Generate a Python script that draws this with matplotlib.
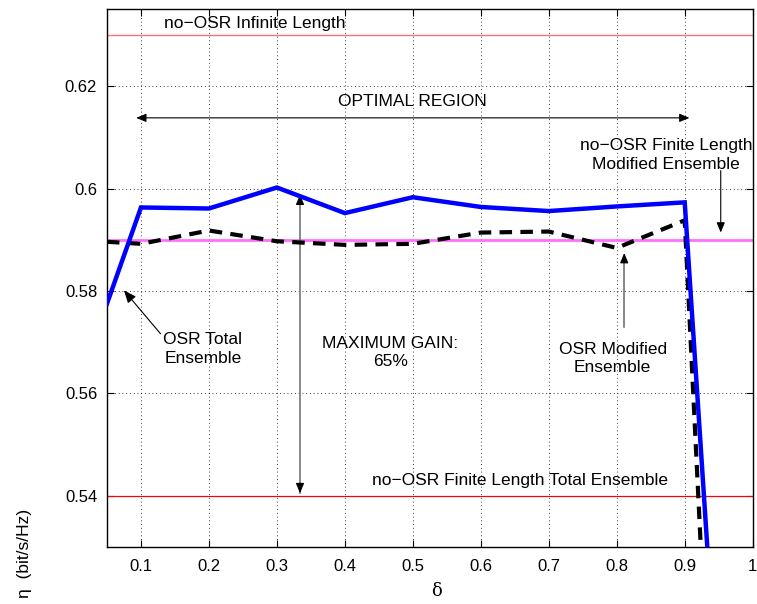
import matplotlib.pyplot as plt
import numpy as np

plt.rcParams['font.family'] = ['Liberation Sans', 'DejaVu Sans']

# spectral efficiency vs delta
delta = [0.05, 0.1, 0.2, 0.3, 0.4, 0.5, 0.6, 0.7, 0.8, 0.9, 0.95]
eta_total = [0.5775, 0.5963, 0.5961, 0.6002, 0.5952, 0.5983, 0.5964, 0.5956, 0.5965, 0.5973, 0.496]
eta_modified = [0.5896, 0.5892, 0.5918, 0.5897, 0.5890, 0.5892, 0.5914, 0.5916, 0.5884, 0.5938, 0.459]

# no-OSR reference levels
eta_inf = 0.63
eta_fin_total = 0.54
eta_fin_modified = 0.590

fig = plt.figure(figsize=(7.57, 6.04), dpi=100)
ax = fig.add_axes([0.1413, 0.0944, 0.853, 0.8902])

ax.axhline(eta_inf, color='#ff7070', lw=1.0)
ax.axhline(eta_fin_total, color='#ff0000', lw=0.9)
ax.axhline(eta_fin_modified, color='#ff70ff', lw=2.0)

ax.plot(delta, eta_total, color='#0000ff', lw=3.2, solid_joinstyle='miter', zorder=4)
ax.plot(delta, eta_modified, color='k', lw=3.0, dashes=(3, 2), zorder=3)

ax.set_xlim(0.05, 1.0)
ax.set_ylim(0.53, 0.635)
ax.set_xticks([0.1, 0.2, 0.3, 0.4, 0.5, 0.6, 0.7, 0.8, 0.9, 1.0])
ax.set_xticklabels(['0.1', '0.2', '0.3', '0.4', '0.5', '0.6', '0.7', '0.8', '0.9', '1'])
ax.set_yticks([0.54, 0.56, 0.58, 0.60, 0.62])
ax.set_yticklabels(['0.54', '0.56', '0.58', '0.6', '0.62'])
ax.tick_params(direction='in', top=True, right=True, length=5, width=0.8,
               labelsize=12, pad=7)
ax.tick_params(axis='x', pad=9)
ax.grid(True, color='k', linestyle=(0, (1, 3.5)), lw=0.6)
for s in ax.spines.values():
    s.set_linewidth(1.0)

txt = dict(fontsize=12.5, ha='center', va='center', linespacing=1.3)
head = '-|>,head_length=0.6,head_width=0.25'

ax.text(0.268, 0.6322, 'no\u2212OSR Infinite Length', **txt)
ax.text(0.5, 0.6170, 'OPTIMAL REGION', **txt)
ax.annotate('', xy=(0.093, 0.6138), xytext=(0.907, 0.6138),
            arrowprops=dict(arrowstyle='<|-|>,head_length=0.6,head_width=0.25',
                            color='k', lw=0.8, shrinkA=0, shrinkB=0))

# maximum gain arrow: gray shaft, black heads
ax.plot([0.334, 0.334], [0.5405, 0.5985], color='0.45', lw=1.2)
ax.annotate('', xy=(0.334, 0.5988), xytext=(0.334, 0.5970),
            arrowprops=dict(arrowstyle=head, color='k', lw=0.8, shrinkA=0, shrinkB=0))
ax.annotate('', xy=(0.334, 0.5405), xytext=(0.334, 0.5425),
            arrowprops=dict(arrowstyle=head, color='k', lw=0.8, shrinkA=0, shrinkB=0))
ax.text(0.467, 0.5680, 'MAXIMUM GAIN:\n65%', **txt)

ax.annotate('OSR Total\nEnsemble', xy=(0.075, 0.5801), xytext=(0.191, 0.5687),
            arrowprops=dict(arrowstyle=head, color='k', lw=0.8, shrinkA=0,
                            shrinkB=0, relpos=(0.0, 0.85)), **txt)

ax.plot([0.811, 0.811], [0.5730, 0.5860], color='0.45', lw=1.2)
ax.annotate('', xy=(0.811, 0.5874), xytext=(0.811, 0.5856),
            arrowprops=dict(arrowstyle=head, color='k', lw=0.8, shrinkA=0, shrinkB=0))
ax.text(0.794, 0.5668, 'OSR Modified\nEnsemble', **txt)

ax.text(0.873, 0.6065, 'no\u2212OSR Finite Length\nModified Ensemble', **txt)
ax.annotate('', xy=(0.953, 0.5914), xytext=(0.953, 0.6035),
            arrowprops=dict(arrowstyle=head, color='k', lw=0.8, shrinkA=0, shrinkB=0))

ax.text(0.657, 0.5430, 'no\u2212OSR Finite Length Total Ensemble', **txt)

fig.text(436.5 / 757, 1 - 591 / 604, '\u03b4', fontsize=13, ha='center', va='center',
         family=['DejaVu Serif'])
fig.text(25 / 757, 1 - 553 / 604, '\u03b7  (bit/s/Hz)', fontsize=12.5, rotation=90,
         ha='center', va='center')

fig.savefig('out.png', dpi=100)
